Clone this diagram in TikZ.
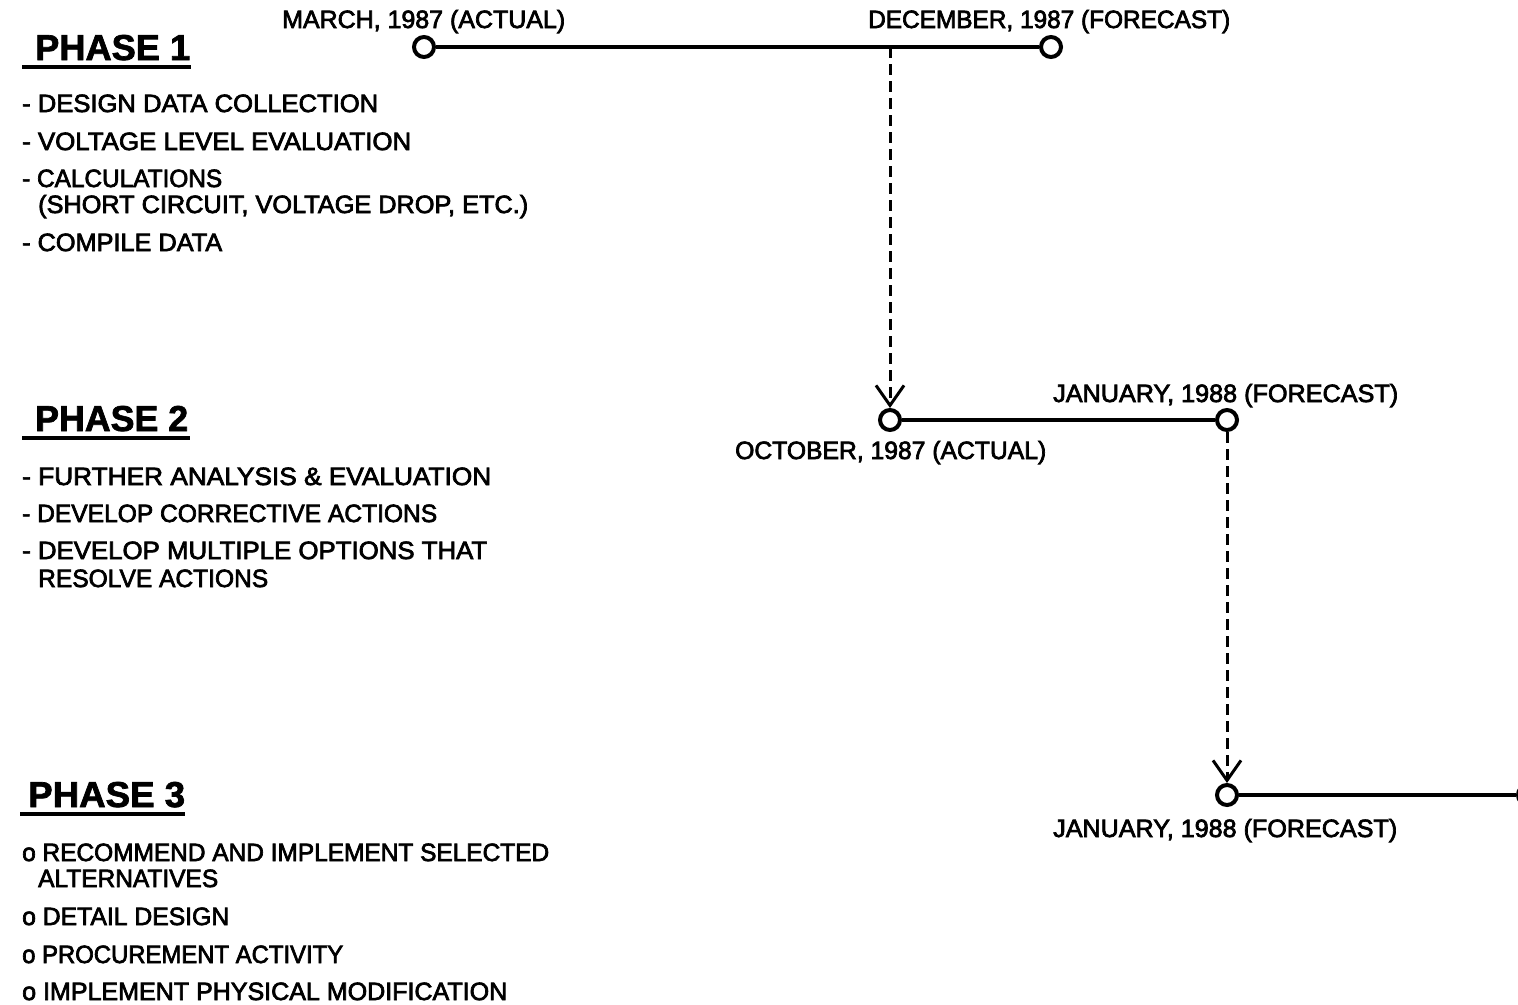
\documentclass[tikz,border=0pt]{standalone}
\usepackage{fontspec}
\setmainfont{Liberation Sans}
\usetikzlibrary{arrows.meta}
\newcommand\fitw[2]{\resizebox{#1pt}{\height}{\special{pdf:literal direct 2 Tr 0.7 w}#2\special{pdf:literal direct 0 Tr}}}
\begin{document}
\begin{tikzpicture}[x=1pt,y=-1pt,
  item/.style={anchor=base west, inner sep=0pt, font=\fontsize{25}{30}\selectfont},
  head/.style={anchor=base west, inner sep=0pt, font=\fontsize{36}{42}\selectfont\bfseries},
  mile/.style={circle, draw, line width=4pt, minimum size=20pt, inner sep=0pt},
  tl/.style={line width=4pt},
  uline/.style={line width=4pt},
  dl/.style={line width=3pt, dash pattern=on 11pt off 6pt,
    -{Straight Barb[length=20pt, width=28pt, line width=3pt]}}]
\useasboundingbox (0,0) rectangle (1518,1004);
\clip (0,0) rectangle (1518,1004);

% Phase 1
\node[head] (h1) at (35,60) {\fitw{155}{PHASE 1}};
\draw[uline] (22,67) -- (191,67);
\node[item] (p1a) at (22,112) {\fitw{356}{- DESIGN DATA COLLECTION}};
\node[item] (p1b) at (22,150) {\fitw{389}{- VOLTAGE LEVEL EVALUATION}};
\node[item] (p1c) at (22,187) {\fitw{200}{- CALCULATIONS}};
\node[item] (p1d) at (38,213) {\fitw{490}{(SHORT CIRCUIT, VOLTAGE DROP, ETC.)}};
\node[item] (p1e) at (22,251) {\fitw{200}{- COMPILE DATA}};

% Phase 2
\node[head] (h2) at (35,431) {\fitw{153}{PHASE 2}};
\draw[uline] (22,438) -- (190,438);
\node[item] (p2a) at (22,485) {\fitw{469}{- FURTHER ANALYSIS \& EVALUATION}};
\node[item] (p2b) at (22,522) {\fitw{415}{- DEVELOP CORRECTIVE ACTIONS}};
\node[item] (p2c) at (22,559) {\fitw{465}{- DEVELOP MULTIPLE OPTIONS THAT}};
\node[item] (p2d) at (38,587) {\fitw{230}{RESOLVE ACTIONS}};

% Phase 3
\node[head] (h3) at (28,807) {\fitw{157}{PHASE 3}};
\draw[uline] (20,814) -- (185,814);
\node[item] (p3a) at (22,861) {\fitw{527}{o RECOMMEND AND IMPLEMENT SELECTED}};
\node[item] (p3b) at (38,887) {\fitw{180}{ALTERNATIVES}};
\node[item] (p3c) at (22,925) {\fitw{207}{o DETAIL DESIGN}};
\node[item] (p3d) at (22,963) {\fitw{321}{o PROCUREMENT ACTIVITY}};
\node[item] (p3e) at (22,1000) {\fitw{485}{o IMPLEMENT PHYSICAL MODIFICATION}};

% Timeline
\node[mile] (m1) at (424,47) {};
\node[mile] (m2) at (1051,47) {};
\coordinate (j1) at (890,47);
\node[mile] (m3) at (890,420) {};
\node[mile] (m4) at (1227,420) {};
\node[mile] (m5) at (1227,795) {};
\node[mile] (m6) at (1528,795) {};

\draw[tl] (m1) -- (m2);
\draw[tl] (m3) -- (m4);
\draw[tl] (m5) -- (m6);
\draw[dl] (j1) -- (m3);
\draw[dl] (m4) -- (m5);

\node[item] (l1) at (282,28) {\fitw{283}{MARCH, 1987 (ACTUAL)}};
\node[item] (l2) at (868,28) {\fitw{362}{DECEMBER, 1987 (FORECAST)}};
\node[item] (l3) at (1053,402) {\fitw{345}{JANUARY, 1988 (FORECAST)}};
\node[item] (l4) at (735,459) {\fitw{311}{OCTOBER, 1987 (ACTUAL)}};
\node[item] (l5) at (1053,837) {\fitw{344}{JANUARY, 1988 (FORECAST)}};
\end{tikzpicture}
\end{document}
